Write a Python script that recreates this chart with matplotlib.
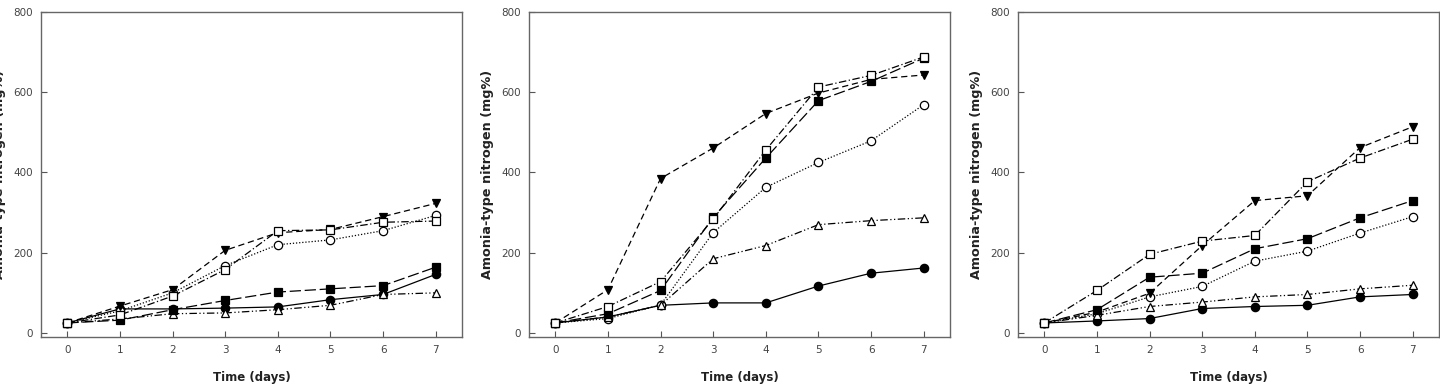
import matplotlib
matplotlib.use('Agg')
import matplotlib.pyplot as plt
import numpy as np

days = [0, 1, 2, 3, 4, 5, 6, 7]

# panel 1
p1_filled_circle = [25, 60, 60, 62, 65, 83, 96, 146]
p1_open_circle = [25, 55, 100, 168, 220, 232, 255, 293]
p1_filled_tri = [25, 67, 108, 206, 250, 258, 290, 323]
p1_open_tri = [25, 35, 48, 50, 58, 69, 96, 100]
p1_filled_sq = [25, 32, 58, 81, 102, 110, 118, 164]
p1_open_sq = [25, 45, 92, 158, 255, 257, 276, 279]

# panel 2
p2_filled_circle = [25, 40, 69, 75, 75, 117, 149, 162]
p2_open_circle = [25, 36, 70, 250, 363, 425, 479, 569]
p2_filled_tri = [25, 108, 385, 461, 547, 598, 632, 643]
p2_open_tri = [25, 40, 69, 185, 218, 270, 280, 287]
p2_filled_sq = [25, 48, 106, 288, 436, 579, 627, 685]
p2_open_sq = [25, 66, 128, 284, 456, 613, 642, 688]

# panel 3
p3_filled_circle = [25, 30, 36, 61, 66, 69, 90, 96]
p3_open_circle = [25, 48, 90, 116, 179, 204, 249, 290]
p3_filled_tri = [25, 52, 99, 218, 330, 342, 462, 514]
p3_open_tri = [25, 44, 66, 77, 90, 96, 110, 119]
p3_filled_sq = [25, 58, 139, 149, 210, 235, 287, 330]
p3_open_sq = [25, 106, 196, 229, 243, 377, 436, 483]

panels = [
    (p1_filled_circle, p1_open_circle, p1_filled_tri, p1_open_tri, p1_filled_sq, p1_open_sq),
    (p2_filled_circle, p2_open_circle, p2_filled_tri, p2_open_tri, p2_filled_sq, p2_open_sq),
    (p3_filled_circle, p3_open_circle, p3_filled_tri, p3_open_tri, p3_filled_sq, p3_open_sq),
]

# marker, fill, linestyle for each series
styles = [
    ('o', 'black', '-'),
    ('o', 'white', (0, (1, 1.5))),
    ('v', 'black', (0, (5, 3))),
    ('^', 'white', (0, (6, 2, 1, 2, 1, 2))),
    ('s', 'black', (0, (9, 3))),
    ('s', 'white', (0, (6, 2, 1, 2))),
]

lefts = [41, 529, 1018]
fig = plt.figure(figsize=(14.4, 3.84), dpi=100)
for left, series in zip(lefts, panels):
    ax = fig.add_axes([left / 1440, 1 - 337 / 384, 421 / 1440, 325 / 384])
    for vals, (m, fc, ls) in zip(series, styles):
        ax.plot(days, vals, color='black', lw=0.9, linestyle=ls,
                marker=m, markersize=6, markerfacecolor=fc,
                markeredgecolor='black', markeredgewidth=0.9)
    ax.set_xlim(-0.5, 7.5)
    ax.set_ylim(-10, 800)
    ax.set_xticks(days)
    ax.set_yticks([0, 200, 400, 600, 800])
    ax.tick_params(direction='in', length=4, width=0.8, colors='#555555',
                   labelsize=7.5, labelcolor='#444444', pad=6)
    for s in ax.spines.values():
        s.set_color('#666666')
        s.set_linewidth(1.0)
    ax.set_xlabel('Time (days)', fontsize=8.5, fontweight='bold', color='#222222', labelpad=11)
    ax.set_ylabel('Amonia-type nitrogen (mg%)', fontsize=9.2, fontweight='bold', color='#222222', labelpad=5)

fig.savefig('out.png', dpi=100)
